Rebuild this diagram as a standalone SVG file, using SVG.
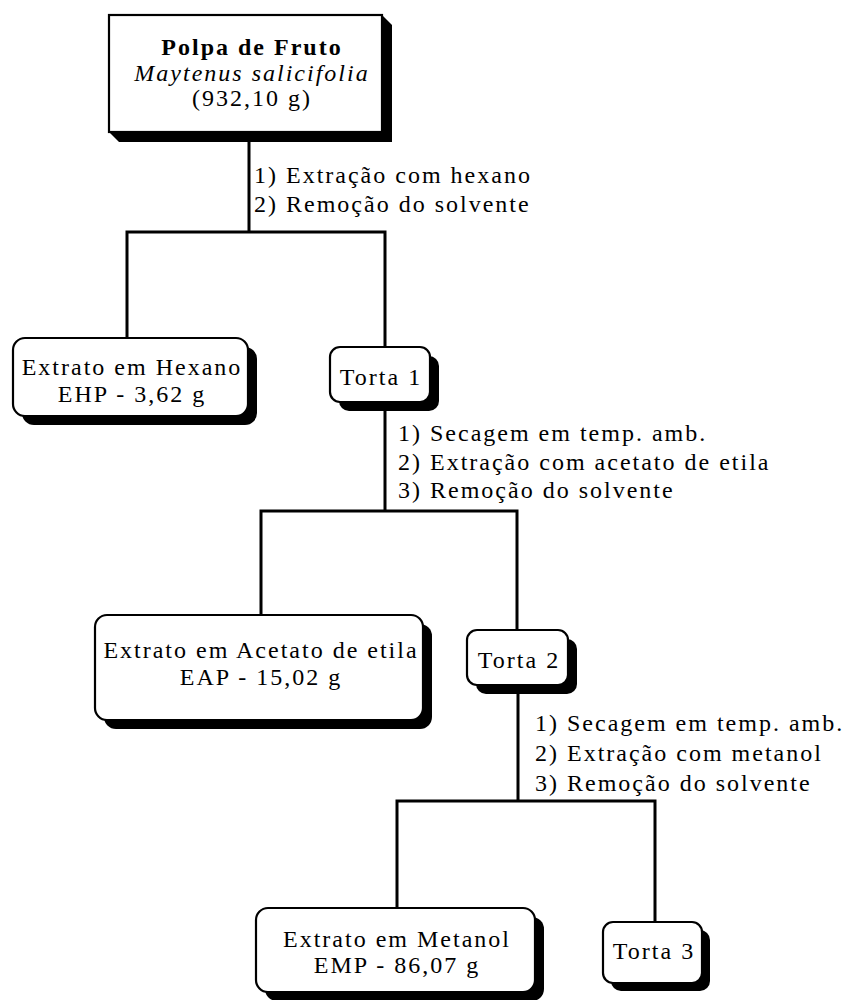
<svg xmlns="http://www.w3.org/2000/svg" width="849" height="1000" viewBox="0 0 849 1000">
  <style>
    text { font-family: "Liberation Serif", "Times New Roman", serif; font-size: 24px; fill: #000; letter-spacing: 2px; }
    .c { text-anchor: middle; }
    .b { font-weight: bold; }
    .i { font-style: italic; }
    .box { fill: #fff; stroke: #000; stroke-width: 2.2; }
    .shadow { fill: #000; stroke: none; }
    .wire { fill: none; stroke: #000; stroke-width: 3; stroke-linecap: square; }
  </style>

  <!-- connectors -->
  <g id="connectors">
    <path class="wire" d="M249,132 V232 M127,232 H385 M127,232 V338 M385,232 V347"/>
    <path class="wire" d="M385,402 V511 M261,511 H517 M261,511 V615 M517,511 V630"/>
    <path class="wire" d="M518,685 V801 M397,801 H655 M397,801 V908 M655,801 V922"/>
  </g>

  <!-- step labels -->
  <g id="steps-1">
    <text x="254" y="183">1) Extração com hexano</text>
    <text x="254" y="212">2) Remoção do solvente</text>
  </g>
  <g id="steps-2">
    <text x="398" y="441">1) Secagem em temp. amb.</text>
    <text x="398" y="470">2) Extração com acetato de etila</text>
    <text x="398" y="498">3) Remoção do solvente</text>
  </g>
  <g id="steps-3">
    <text x="535" y="731">1) Secagem em temp. amb.</text>
    <text x="535" y="761">2) Extração com metanol</text>
    <text x="535" y="791">3) Remoção do solvente</text>
  </g>

  <!-- starting material -->
  <g id="polpa">
    <polygon class="shadow" points="382,15 392,25 392,142 119,142 109,132"/>
    <rect class="box" x="109" y="15" width="273" height="117" stroke-width="2.6"/>
    <text class="c b" x="252" y="55">Polpa de Fruto</text>
    <text class="c i" x="252" y="81">Maytenus salicifolia</text>
    <text class="c" x="252" y="106">(932,10 g)</text>
  </g>

  <!-- hexane extract -->
  <g id="ehp">
    <rect class="shadow" x="22" y="347" width="235" height="78" rx="12"/>
    <polygon class="shadow" points="239.5,341.5 248.5,350.5 30.5,415.5 21.5,406.5"/>
    <rect class="box" x="13" y="338" width="235" height="78" rx="12"/>
    <text class="c" x="132" y="375">Extrato em Hexano</text>
    <text class="c" x="132" y="402">EHP - 3,62 g</text>
  </g>

  <!-- residue 1 -->
  <g id="torta1">
    <rect class="shadow" x="339" y="356" width="100" height="55" rx="10"/>
    <polygon class="shadow" points="423,350 432,359 346,409 337,400"/>
    <rect class="box" x="330" y="347" width="100" height="55" rx="10"/>
    <text class="c" x="381" y="385">Torta 1</text>
  </g>

  <!-- ethyl acetate extract -->
  <g id="eap">
    <rect class="shadow" x="104" y="624" width="328" height="105" rx="12"/>
    <polygon class="shadow" points="414.5,618.5 423.5,627.5 112.5,726.5 103.5,717.5"/>
    <rect class="box" x="95" y="615" width="328" height="105" rx="12"/>
    <text class="c" x="261" y="658">Extrato em Acetato de etila</text>
    <text class="c" x="261" y="685">EAP - 15,02 g</text>
  </g>

  <!-- residue 2 -->
  <g id="torta2">
    <rect class="shadow" x="476" y="639" width="101" height="55" rx="10"/>
    <polygon class="shadow" points="561,633 570,642 483,692 474,683"/>
    <rect class="box" x="467" y="630" width="101" height="55" rx="10"/>
    <text class="c" x="519" y="668">Torta 2</text>
  </g>

  <!-- methanol extract -->
  <g id="emp">
    <rect class="shadow" x="265" y="917" width="279" height="84" rx="12"/>
    <polygon class="shadow" points="526.5,911.5 535.5,920.5 273.5,998.5 264.5,989.5"/>
    <rect class="box" x="256" y="908" width="279" height="84" rx="12"/>
    <text class="c" x="397" y="947">Extrato em Metanol</text>
    <text class="c" x="397" y="973">EMP - 86,07 g</text>
  </g>

  <!-- residue 3 -->
  <g id="torta3">
    <rect class="shadow" x="611" y="930" width="99" height="61" rx="10"/>
    <polygon class="shadow" points="695,925 703,933 618,988 610,980"/>
    <rect class="box" x="603" y="922" width="99" height="61" rx="10"/>
    <text class="c" x="654" y="959">Torta 3</text>
  </g>
</svg>
